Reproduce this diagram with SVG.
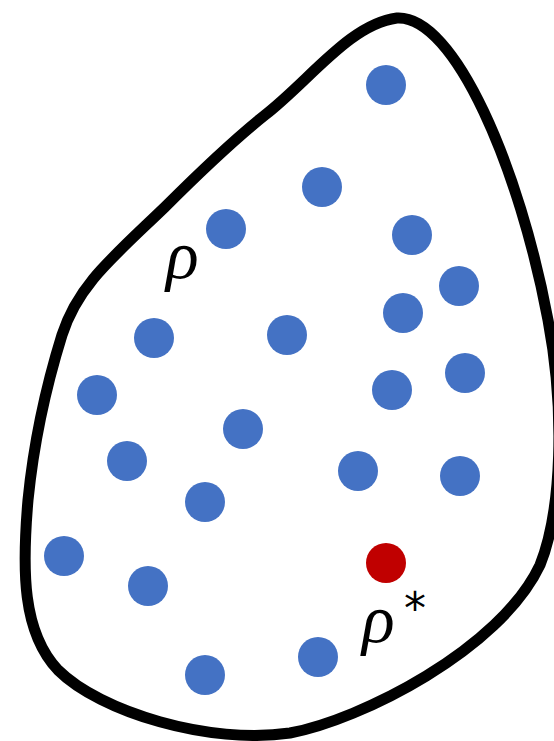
<svg xmlns="http://www.w3.org/2000/svg" width="554" height="741" viewBox="0 0 554 741">
<style>
.b{fill:#4472c4}
.r{fill:#c00000}
.t{font-family:"Liberation Serif","DejaVu Serif",serif;font-style:italic;fill:#000}
.s{font-family:"DejaVu Sans","Liberation Sans",sans-serif;fill:#000}
</style>
<rect width="554" height="741" fill="#fff"/>
<g id="outline">
<path d="M397,18 C455,15 520,170 548,320 C565,410 562,510 540,565 C500,650 360,720 290,733 C210,745 100,712 58,670 C22,632 22,570 28,500 C34,440 48,380 62,335 C78,285 112,258 165,207 C200,172 240,135 265,115 C310,80 350,24 397,18 Z" fill="none" stroke="#000" stroke-width="11"/>
</g>
<g id="points">
<circle class="b" cx="386" cy="85" r="20"/>
<circle class="b" cx="322" cy="187" r="20"/>
<circle class="b" cx="226" cy="229" r="20"/>
<circle class="b" cx="412" cy="235" r="20"/>
<circle class="b" cx="459" cy="286" r="20"/>
<circle class="b" cx="403" cy="313" r="20"/>
<circle class="b" cx="154" cy="338" r="20"/>
<circle class="b" cx="287" cy="335" r="20"/>
<circle class="b" cx="97" cy="395" r="20"/>
<circle class="b" cx="392" cy="390" r="20"/>
<circle class="b" cx="465" cy="373" r="20"/>
<circle class="b" cx="243" cy="429" r="20"/>
<circle class="b" cx="127" cy="461" r="20"/>
<circle class="b" cx="358" cy="471" r="20"/>
<circle class="b" cx="460" cy="476" r="20"/>
<circle class="b" cx="205" cy="502" r="20"/>
<circle class="b" cx="64" cy="556" r="20"/>
<circle class="b" cx="148" cy="586" r="20"/>
<circle class="b" cx="205" cy="675" r="20"/>
<circle class="b" cx="318" cy="657" r="20"/>
</g>
<g id="optimum">
<circle class="r" cx="386" cy="563" r="20"/>
</g>
<g id="labels">
<text class="t" x="166" y="278" font-size="68">ρ</text>
<text class="t" x="362" y="642" font-size="68">ρ</text>
<text class="s" x="404" y="624" font-size="44">*</text>
</g>
</svg>
